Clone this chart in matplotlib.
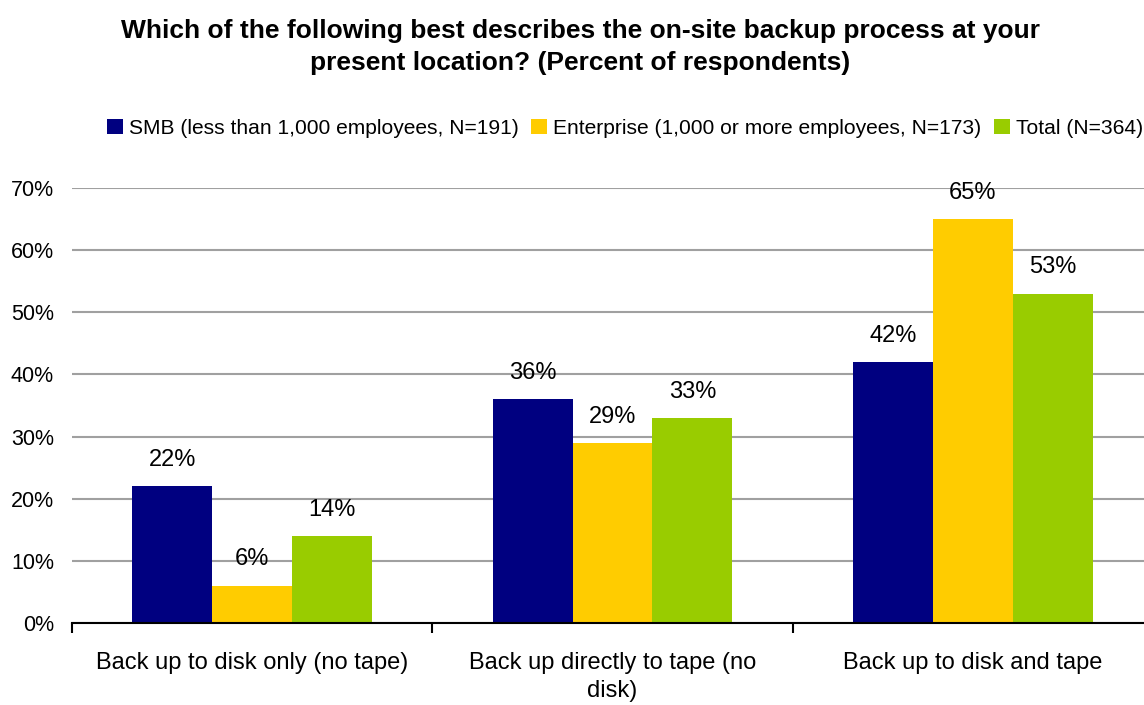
import matplotlib
matplotlib.use("Agg")
import matplotlib.pyplot as plt
import numpy as np

plt.rcParams['font.family'] = ['Liberation Sans', 'DejaVu Sans']

categories = ["Back up to disk only (no tape)", "Back up directly to tape (no\ndisk)", "Back up to disk and tape"]
series_names = ["SMB (less than 1,000 employees, N=191)",
                "Enterprise (1,000 or more employees, N=173)",
                "Total (N=364)"]
smb = [22, 36, 42]
enterprise = [6, 29, 65]
total = [14, 33, 53]
yticks = [0, 10, 20, 30, 40, 50, 60, 70]
colors = ["#000080", "#FFCC00", "#99CC00"]

fig = plt.figure(figsize=(11.44, 7.05), dpi=100)
ax = fig.add_axes([72/1144, 1-623/705, 1081/1144, (623-188)/705])

x = np.arange(len(categories))
w = 0.222
for i, (vals, c, name) in enumerate(zip([smb, enterprise, total], colors, series_names)):
    bars = ax.bar(x + (i-1)*w, vals, width=w, color=c, label=name, zorder=3)
    for b, v in zip(bars, vals):
        ax.annotate(f"{v}%", (b.get_x()+b.get_width()/2, v), xytext=(0, 11),
                    textcoords="offset points", ha="center", va="bottom", fontsize=17)

ax.set_xlim(-0.5, 2.5)
ax.set_ylim(0, 70)
ax.set_yticks(yticks)
ax.set_yticklabels([f"{t}%" for t in yticks], fontsize=15.5)
ax.yaxis.grid(True, color="#A0A0A0", linewidth=1.5, zorder=0)
ax.tick_params(axis='y', length=0, pad=13)
for s in ["top", "right", "left"]:
    ax.spines[s].set_visible(False)
ax.spines["bottom"].set_linewidth(1.5)
ax.spines["bottom"].set_zorder(4)

ax.set_xticks([-0.5, 0.5, 1.5, 2.5])
ax.set_xticklabels([])
ax.tick_params(axis='x', which='major', length=7, width=1.5, direction='out')
ax.set_xticks(x, minor=True)
ax.set_xticklabels(categories, minor=True, fontsize=17, linespacing=1.35)
ax.tick_params(axis='x', which='minor', length=0, pad=21)

fig.text(0.507, 1-47/705, "Which of the following best describes the on-site backup process at your\npresent location? (Percent of respondents)",
         ha="center", va="center", fontsize=19, fontweight="bold", linespacing=1.45)

fig.legend(loc="center", bbox_to_anchor=(625/1144, 1-128/705), ncol=3, frameon=False,
           fontsize=15.1, handlelength=0.75, handleheight=0.75, handletextpad=0.3,
           columnspacing=0.6)

fig.savefig("out.png", dpi=100)
